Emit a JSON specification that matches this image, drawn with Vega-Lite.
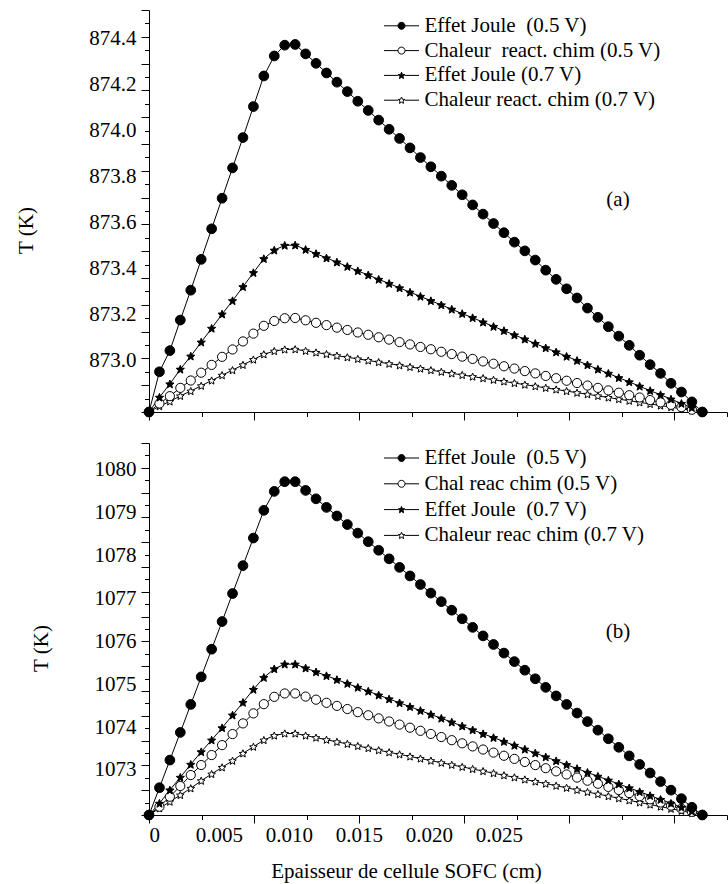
{
"$schema": "https://vega.github.io/schema/vega-lite/v6.json",
"background": "white",
"padding": {"left": 15, "top": 9, "right": 1, "bottom": 5},
"spacing": 31,
"bounds": "flush",
"datasets": {
"a": [
{"s":"S7","x":0,"T":872.774},{"s":"S7","x":0.000746,"T":872.799},{"s":"S7","x":0.001491,"T":872.820},{"s":"S7","x":0.002237,"T":872.844},{"s":"S7","x":0.002983,"T":872.865},{"s":"S7","x":0.003729,"T":872.888},{"s":"S7","x":0.004474,"T":872.911},{"s":"S7","x":0.00522,"T":872.934},{"s":"S7","x":0.005966,"T":872.956},{"s":"S7","x":0.006711,"T":872.979},{"s":"S7","x":0.007457,"T":873.002},{"s":"S7","x":0.008203,"T":873.025},{"s":"S7","x":0.008948,"T":873.039},{"s":"S7","x":0.009694,"T":873.046},{"s":"S7","x":0.01044,"T":873.047},{"s":"S7","x":0.011186,"T":873.040},{"s":"S7","x":0.011931,"T":873.033},{"s":"S7","x":0.012677,"T":873.026},{"s":"S7","x":0.013423,"T":873.019},{"s":"S7","x":0.014168,"T":873.012},{"s":"S7","x":0.014914,"T":873.005},{"s":"S7","x":0.01566,"T":872.998},{"s":"S7","x":0.016405,"T":872.991},{"s":"S7","x":0.017151,"T":872.984},{"s":"S7","x":0.017897,"T":872.977},{"s":"S7","x":0.018643,"T":872.970},{"s":"S7","x":0.019388,"T":872.963},{"s":"S7","x":0.020134,"T":872.956},{"s":"S7","x":0.02088,"T":872.949},{"s":"S7","x":0.021625,"T":872.942},{"s":"S7","x":0.022371,"T":872.935},{"s":"S7","x":0.023117,"T":872.928},{"s":"S7","x":0.023862,"T":872.921},{"s":"S7","x":0.024608,"T":872.914},{"s":"S7","x":0.025354,"T":872.907},{"s":"S7","x":0.0261,"T":872.900},{"s":"S7","x":0.026845,"T":872.893},{"s":"S7","x":0.027591,"T":872.886},{"s":"S7","x":0.028337,"T":872.879},{"s":"S7","x":0.029082,"T":872.872},{"s":"S7","x":0.029828,"T":872.865},{"s":"S7","x":0.030574,"T":872.858},{"s":"S7","x":0.031319,"T":872.851},{"s":"S7","x":0.032065,"T":872.844},{"s":"S7","x":0.032811,"T":872.837},{"s":"S7","x":0.033557,"T":872.830},{"s":"S7","x":0.034302,"T":872.823},{"s":"S7","x":0.035048,"T":872.816},{"s":"S7","x":0.035794,"T":872.809},{"s":"S7","x":0.036539,"T":872.802},{"s":"S7","x":0.037285,"T":872.795},{"s":"S7","x":0.038031,"T":872.788},{"s":"S7","x":0.038776,"T":872.781},{"s":"S7","x":0.039522,"T":872.774},
{"s":"C5","x":0,"T":872.774},{"s":"C5","x":0.000746,"T":872.811},{"s":"C5","x":0.001491,"T":872.843},{"s":"C5","x":0.002237,"T":872.879},{"s":"C5","x":0.002983,"T":872.911},{"s":"C5","x":0.003729,"T":872.945},{"s":"C5","x":0.004474,"T":872.979},{"s":"C5","x":0.00522,"T":873.014},{"s":"C5","x":0.005966,"T":873.046},{"s":"C5","x":0.006711,"T":873.081},{"s":"C5","x":0.007457,"T":873.115},{"s":"C5","x":0.008203,"T":873.149},{"s":"C5","x":0.008948,"T":873.170},{"s":"C5","x":0.009694,"T":873.182},{"s":"C5","x":0.01044,"T":873.183},{"s":"C5","x":0.011186,"T":873.173},{"s":"C5","x":0.011931,"T":873.162},{"s":"C5","x":0.012677,"T":873.152},{"s":"C5","x":0.013423,"T":873.141},{"s":"C5","x":0.014168,"T":873.131},{"s":"C5","x":0.014914,"T":873.120},{"s":"C5","x":0.01566,"T":873.110},{"s":"C5","x":0.016405,"T":873.099},{"s":"C5","x":0.017151,"T":873.089},{"s":"C5","x":0.017897,"T":873.078},{"s":"C5","x":0.018643,"T":873.068},{"s":"C5","x":0.019388,"T":873.057},{"s":"C5","x":0.020134,"T":873.047},{"s":"C5","x":0.02088,"T":873.036},{"s":"C5","x":0.021625,"T":873.026},{"s":"C5","x":0.022371,"T":873.015},{"s":"C5","x":0.023117,"T":873.005},{"s":"C5","x":0.023862,"T":872.994},{"s":"C5","x":0.024608,"T":872.984},{"s":"C5","x":0.025354,"T":872.973},{"s":"C5","x":0.0261,"T":872.963},{"s":"C5","x":0.026845,"T":872.952},{"s":"C5","x":0.027591,"T":872.942},{"s":"C5","x":0.028337,"T":872.931},{"s":"C5","x":0.029082,"T":872.921},{"s":"C5","x":0.029828,"T":872.910},{"s":"C5","x":0.030574,"T":872.900},{"s":"C5","x":0.031319,"T":872.889},{"s":"C5","x":0.032065,"T":872.879},{"s":"C5","x":0.032811,"T":872.868},{"s":"C5","x":0.033557,"T":872.858},{"s":"C5","x":0.034302,"T":872.847},{"s":"C5","x":0.035048,"T":872.837},{"s":"C5","x":0.035794,"T":872.826},{"s":"C5","x":0.036539,"T":872.816},{"s":"C5","x":0.037285,"T":872.805},{"s":"C5","x":0.038031,"T":872.795},{"s":"C5","x":0.038776,"T":872.784},{"s":"C5","x":0.039522,"T":872.774},
{"s":"J7","x":0,"T":872.774},{"s":"J7","x":0.000746,"T":872.838},{"s":"J7","x":0.001491,"T":872.896},{"s":"J7","x":0.002237,"T":872.960},{"s":"J7","x":0.002983,"T":873.017},{"s":"J7","x":0.003729,"T":873.078},{"s":"J7","x":0.004474,"T":873.138},{"s":"J7","x":0.00522,"T":873.200},{"s":"J7","x":0.005966,"T":873.258},{"s":"J7","x":0.006711,"T":873.319},{"s":"J7","x":0.007457,"T":873.380},{"s":"J7","x":0.008203,"T":873.441},{"s":"J7","x":0.008948,"T":873.478},{"s":"J7","x":0.009694,"T":873.499},{"s":"J7","x":0.01044,"T":873.500},{"s":"J7","x":0.011186,"T":873.481},{"s":"J7","x":0.011931,"T":873.463},{"s":"J7","x":0.012677,"T":873.444},{"s":"J7","x":0.013423,"T":873.426},{"s":"J7","x":0.014168,"T":873.407},{"s":"J7","x":0.014914,"T":873.388},{"s":"J7","x":0.01566,"T":873.370},{"s":"J7","x":0.016405,"T":873.351},{"s":"J7","x":0.017151,"T":873.333},{"s":"J7","x":0.017897,"T":873.314},{"s":"J7","x":0.018643,"T":873.295},{"s":"J7","x":0.019388,"T":873.277},{"s":"J7","x":0.020134,"T":873.258},{"s":"J7","x":0.02088,"T":873.240},{"s":"J7","x":0.021625,"T":873.221},{"s":"J7","x":0.022371,"T":873.202},{"s":"J7","x":0.023117,"T":873.184},{"s":"J7","x":0.023862,"T":873.165},{"s":"J7","x":0.024608,"T":873.146},{"s":"J7","x":0.025354,"T":873.128},{"s":"J7","x":0.0261,"T":873.109},{"s":"J7","x":0.026845,"T":873.091},{"s":"J7","x":0.027591,"T":873.072},{"s":"J7","x":0.028337,"T":873.053},{"s":"J7","x":0.029082,"T":873.035},{"s":"J7","x":0.029828,"T":873.016},{"s":"J7","x":0.030574,"T":872.998},{"s":"J7","x":0.031319,"T":872.979},{"s":"J7","x":0.032065,"T":872.960},{"s":"J7","x":0.032811,"T":872.942},{"s":"J7","x":0.033557,"T":872.923},{"s":"J7","x":0.034302,"T":872.905},{"s":"J7","x":0.035048,"T":872.886},{"s":"J7","x":0.035794,"T":872.867},{"s":"J7","x":0.036539,"T":872.849},{"s":"J7","x":0.037285,"T":872.830},{"s":"J7","x":0.038031,"T":872.811},{"s":"J7","x":0.038776,"T":872.793},{"s":"J7","x":0.039522,"T":872.774},
{"s":"J5","x":0,"T":872.774},{"s":"J5","x":0.000746,"T":872.949},{"s":"J5","x":0.001491,"T":873.041},{"s":"J5","x":0.002237,"T":873.174},{"s":"J5","x":0.002983,"T":873.304},{"s":"J5","x":0.003729,"T":873.438},{"s":"J5","x":0.004474,"T":873.571},{"s":"J5","x":0.00522,"T":873.704},{"s":"J5","x":0.005966,"T":873.836},{"s":"J5","x":0.006711,"T":873.968},{"s":"J5","x":0.007457,"T":874.103},{"s":"J5","x":0.008203,"T":874.236},{"s":"J5","x":0.008948,"T":874.323},{"s":"J5","x":0.009694,"T":874.370},{"s":"J5","x":0.01044,"T":874.373},{"s":"J5","x":0.011186,"T":874.332},{"s":"J5","x":0.011931,"T":874.291},{"s":"J5","x":0.012677,"T":874.249},{"s":"J5","x":0.013423,"T":874.209},{"s":"J5","x":0.014168,"T":874.168},{"s":"J5","x":0.014914,"T":874.126},{"s":"J5","x":0.01566,"T":874.086},{"s":"J5","x":0.016405,"T":874.044},{"s":"J5","x":0.017151,"T":874.004},{"s":"J5","x":0.017897,"T":873.964},{"s":"J5","x":0.018643,"T":873.923},{"s":"J5","x":0.019388,"T":873.881},{"s":"J5","x":0.020134,"T":873.841},{"s":"J5","x":0.02088,"T":873.800},{"s":"J5","x":0.021625,"T":873.760},{"s":"J5","x":0.022371,"T":873.719},{"s":"J5","x":0.023117,"T":873.675},{"s":"J5","x":0.023862,"T":873.635},{"s":"J5","x":0.024608,"T":873.594},{"s":"J5","x":0.025354,"T":873.554},{"s":"J5","x":0.0261,"T":873.513},{"s":"J5","x":0.026845,"T":873.475},{"s":"J5","x":0.027591,"T":873.435},{"s":"J5","x":0.028337,"T":873.391},{"s":"J5","x":0.029082,"T":873.351},{"s":"J5","x":0.029828,"T":873.310},{"s":"J5","x":0.030574,"T":873.270},{"s":"J5","x":0.031319,"T":873.226},{"s":"J5","x":0.032065,"T":873.186},{"s":"J5","x":0.032811,"T":873.145},{"s":"J5","x":0.033557,"T":873.104},{"s":"J5","x":0.034302,"T":873.064},{"s":"J5","x":0.035048,"T":873.021},{"s":"J5","x":0.035794,"T":872.980},{"s":"J5","x":0.036539,"T":872.942},{"s":"J5","x":0.037285,"T":872.899},{"s":"J5","x":0.038031,"T":872.861},{"s":"J5","x":0.038776,"T":872.818},{"s":"J5","x":0.039522,"T":872.774}
],
"b": [
{"s":"S7","x":0,"T":1071.950},{"s":"S7","x":0.000746,"T":1072.106},{"s":"S7","x":0.001491,"T":1072.260},{"s":"S7","x":0.002237,"T":1072.416},{"s":"S7","x":0.002983,"T":1072.572},{"s":"S7","x":0.003729,"T":1072.748},{"s":"S7","x":0.004474,"T":1072.904},{"s":"S7","x":0.00522,"T":1073.060},{"s":"S7","x":0.005966,"T":1073.214},{"s":"S7","x":0.006711,"T":1073.386},{"s":"S7","x":0.007457,"T":1073.540},{"s":"S7","x":0.008203,"T":1073.696},{"s":"S7","x":0.008948,"T":1073.801},{"s":"S7","x":0.009694,"T":1073.850},{"s":"S7","x":0.01044,"T":1073.850},{"s":"S7","x":0.011186,"T":1073.801},{"s":"S7","x":0.011931,"T":1073.753},{"s":"S7","x":0.012677,"T":1073.704},{"s":"S7","x":0.013423,"T":1073.655},{"s":"S7","x":0.014168,"T":1073.607},{"s":"S7","x":0.014914,"T":1073.558},{"s":"S7","x":0.01566,"T":1073.509},{"s":"S7","x":0.016405,"T":1073.460},{"s":"S7","x":0.017151,"T":1073.412},{"s":"S7","x":0.017897,"T":1073.363},{"s":"S7","x":0.018643,"T":1073.314},{"s":"S7","x":0.019388,"T":1073.266},{"s":"S7","x":0.020134,"T":1073.217},{"s":"S7","x":0.02088,"T":1073.168},{"s":"S7","x":0.021625,"T":1073.119},{"s":"S7","x":0.022371,"T":1073.071},{"s":"S7","x":0.023117,"T":1073.022},{"s":"S7","x":0.023862,"T":1072.973},{"s":"S7","x":0.024608,"T":1072.925},{"s":"S7","x":0.025354,"T":1072.876},{"s":"S7","x":0.0261,"T":1072.827},{"s":"S7","x":0.026845,"T":1072.778},{"s":"S7","x":0.027591,"T":1072.730},{"s":"S7","x":0.028337,"T":1072.681},{"s":"S7","x":0.029082,"T":1072.632},{"s":"S7","x":0.029828,"T":1072.584},{"s":"S7","x":0.030574,"T":1072.535},{"s":"S7","x":0.031319,"T":1072.486},{"s":"S7","x":0.032065,"T":1072.437},{"s":"S7","x":0.032811,"T":1072.389},{"s":"S7","x":0.033557,"T":1072.340},{"s":"S7","x":0.034302,"T":1072.291},{"s":"S7","x":0.035048,"T":1072.243},{"s":"S7","x":0.035794,"T":1072.194},{"s":"S7","x":0.036539,"T":1072.145},{"s":"S7","x":0.037285,"T":1072.096},{"s":"S7","x":0.038031,"T":1072.048},{"s":"S7","x":0.038776,"T":1071.999},{"s":"S7","x":0.039522,"T":1071.950},
{"s":"C5","x":0,"T":1071.950},{"s":"C5","x":0.000746,"T":1072.143},{"s":"C5","x":0.001491,"T":1072.376},{"s":"C5","x":0.002237,"T":1072.625},{"s":"C5","x":0.002983,"T":1072.881},{"s":"C5","x":0.003729,"T":1073.114},{"s":"C5","x":0.004474,"T":1073.347},{"s":"C5","x":0.00522,"T":1073.579},{"s":"C5","x":0.005966,"T":1073.836},{"s":"C5","x":0.006711,"T":1074.085},{"s":"C5","x":0.007457,"T":1074.318},{"s":"C5","x":0.008203,"T":1074.534},{"s":"C5","x":0.008948,"T":1074.704},{"s":"C5","x":0.009694,"T":1074.783},{"s":"C5","x":0.01044,"T":1074.783},{"s":"C5","x":0.011186,"T":1074.710},{"s":"C5","x":0.011931,"T":1074.638},{"s":"C5","x":0.012677,"T":1074.565},{"s":"C5","x":0.013423,"T":1074.493},{"s":"C5","x":0.014168,"T":1074.420},{"s":"C5","x":0.014914,"T":1074.347},{"s":"C5","x":0.01566,"T":1074.275},{"s":"C5","x":0.016405,"T":1074.202},{"s":"C5","x":0.017151,"T":1074.130},{"s":"C5","x":0.017897,"T":1074.057},{"s":"C5","x":0.018643,"T":1073.984},{"s":"C5","x":0.019388,"T":1073.912},{"s":"C5","x":0.020134,"T":1073.839},{"s":"C5","x":0.02088,"T":1073.767},{"s":"C5","x":0.021625,"T":1073.694},{"s":"C5","x":0.022371,"T":1073.621},{"s":"C5","x":0.023117,"T":1073.549},{"s":"C5","x":0.023862,"T":1073.476},{"s":"C5","x":0.024608,"T":1073.404},{"s":"C5","x":0.025354,"T":1073.331},{"s":"C5","x":0.0261,"T":1073.258},{"s":"C5","x":0.026845,"T":1073.186},{"s":"C5","x":0.027591,"T":1073.113},{"s":"C5","x":0.028337,"T":1073.041},{"s":"C5","x":0.029082,"T":1072.968},{"s":"C5","x":0.029828,"T":1072.895},{"s":"C5","x":0.030574,"T":1072.823},{"s":"C5","x":0.031319,"T":1072.750},{"s":"C5","x":0.032065,"T":1072.678},{"s":"C5","x":0.032811,"T":1072.605},{"s":"C5","x":0.033557,"T":1072.532},{"s":"C5","x":0.034302,"T":1072.460},{"s":"C5","x":0.035048,"T":1072.387},{"s":"C5","x":0.035794,"T":1072.315},{"s":"C5","x":0.036539,"T":1072.242},{"s":"C5","x":0.037285,"T":1072.169},{"s":"C5","x":0.038031,"T":1072.097},{"s":"C5","x":0.038776,"T":1072.024},{"s":"C5","x":0.039522,"T":1071.950},
{"s":"J7","x":0,"T":1071.950},{"s":"J7","x":0.000746,"T":1072.222},{"s":"J7","x":0.001491,"T":1072.532},{"s":"J7","x":0.002237,"T":1072.828},{"s":"J7","x":0.002983,"T":1073.130},{"s":"J7","x":0.003729,"T":1073.423},{"s":"J7","x":0.004474,"T":1073.696},{"s":"J7","x":0.00522,"T":1073.982},{"s":"J7","x":0.005966,"T":1074.278},{"s":"J7","x":0.006711,"T":1074.573},{"s":"J7","x":0.007457,"T":1074.876},{"s":"J7","x":0.008203,"T":1075.155},{"s":"J7","x":0.008948,"T":1075.356},{"s":"J7","x":0.009694,"T":1075.465},{"s":"J7","x":0.01044,"T":1075.465},{"s":"J7","x":0.011186,"T":1075.375},{"s":"J7","x":0.011931,"T":1075.285},{"s":"J7","x":0.012677,"T":1075.195},{"s":"J7","x":0.013423,"T":1075.105},{"s":"J7","x":0.014168,"T":1075.015},{"s":"J7","x":0.014914,"T":1074.924},{"s":"J7","x":0.01566,"T":1074.834},{"s":"J7","x":0.016405,"T":1074.744},{"s":"J7","x":0.017151,"T":1074.654},{"s":"J7","x":0.017897,"T":1074.564},{"s":"J7","x":0.018643,"T":1074.474},{"s":"J7","x":0.019388,"T":1074.384},{"s":"J7","x":0.020134,"T":1074.294},{"s":"J7","x":0.02088,"T":1074.204},{"s":"J7","x":0.021625,"T":1074.114},{"s":"J7","x":0.022371,"T":1074.023},{"s":"J7","x":0.023117,"T":1073.933},{"s":"J7","x":0.023862,"T":1073.843},{"s":"J7","x":0.024608,"T":1073.753},{"s":"J7","x":0.025354,"T":1073.663},{"s":"J7","x":0.0261,"T":1073.573},{"s":"J7","x":0.026845,"T":1073.483},{"s":"J7","x":0.027591,"T":1073.393},{"s":"J7","x":0.028337,"T":1073.303},{"s":"J7","x":0.029082,"T":1073.213},{"s":"J7","x":0.029828,"T":1073.122},{"s":"J7","x":0.030574,"T":1073.032},{"s":"J7","x":0.031319,"T":1072.942},{"s":"J7","x":0.032065,"T":1072.852},{"s":"J7","x":0.032811,"T":1072.762},{"s":"J7","x":0.033557,"T":1072.672},{"s":"J7","x":0.034302,"T":1072.582},{"s":"J7","x":0.035048,"T":1072.492},{"s":"J7","x":0.035794,"T":1072.402},{"s":"J7","x":0.036539,"T":1072.312},{"s":"J7","x":0.037285,"T":1072.221},{"s":"J7","x":0.038031,"T":1072.131},{"s":"J7","x":0.038776,"T":1072.041},{"s":"J7","x":0.039522,"T":1071.950},
{"s":"J5","x":0,"T":1071.950},{"s":"J5","x":0.000746,"T":1072.586},{"s":"J5","x":0.001491,"T":1073.230},{"s":"J5","x":0.002237,"T":1073.875},{"s":"J5","x":0.002983,"T":1074.527},{"s":"J5","x":0.003729,"T":1075.169},{"s":"J5","x":0.004474,"T":1075.814},{"s":"J5","x":0.00522,"T":1076.459},{"s":"J5","x":0.005966,"T":1077.111},{"s":"J5","x":0.006711,"T":1077.762},{"s":"J5","x":0.007457,"T":1078.405},{"s":"J5","x":0.008203,"T":1079.050},{"s":"J5","x":0.008948,"T":1079.492},{"s":"J5","x":0.009694,"T":1079.718},{"s":"J5","x":0.01044,"T":1079.718},{"s":"J5","x":0.011186,"T":1079.515},{"s":"J5","x":0.011931,"T":1079.319},{"s":"J5","x":0.012677,"T":1079.119},{"s":"J5","x":0.013423,"T":1078.919},{"s":"J5","x":0.014168,"T":1078.720},{"s":"J5","x":0.014914,"T":1078.520},{"s":"J5","x":0.01566,"T":1078.320},{"s":"J5","x":0.016405,"T":1078.120},{"s":"J5","x":0.017151,"T":1077.921},{"s":"J5","x":0.017897,"T":1077.721},{"s":"J5","x":0.018643,"T":1077.521},{"s":"J5","x":0.019388,"T":1077.322},{"s":"J5","x":0.020134,"T":1077.122},{"s":"J5","x":0.02088,"T":1076.922},{"s":"J5","x":0.021625,"T":1076.723},{"s":"J5","x":0.022371,"T":1076.523},{"s":"J5","x":0.023117,"T":1076.323},{"s":"J5","x":0.023862,"T":1076.124},{"s":"J5","x":0.024608,"T":1075.924},{"s":"J5","x":0.025354,"T":1075.724},{"s":"J5","x":0.0261,"T":1075.525},{"s":"J5","x":0.026845,"T":1075.325},{"s":"J5","x":0.027591,"T":1075.125},{"s":"J5","x":0.028337,"T":1074.925},{"s":"J5","x":0.029082,"T":1074.726},{"s":"J5","x":0.029828,"T":1074.526},{"s":"J5","x":0.030574,"T":1074.326},{"s":"J5","x":0.031319,"T":1074.127},{"s":"J5","x":0.032065,"T":1073.927},{"s":"J5","x":0.032811,"T":1073.727},{"s":"J5","x":0.033557,"T":1073.528},{"s":"J5","x":0.034302,"T":1073.328},{"s":"J5","x":0.035048,"T":1073.128},{"s":"J5","x":0.035794,"T":1072.929},{"s":"J5","x":0.036539,"T":1072.729},{"s":"J5","x":0.037285,"T":1072.529},{"s":"J5","x":0.038031,"T":1072.330},{"s":"J5","x":0.038776,"T":1072.130},{"s":"J5","x":0.039522,"T":1071.950}
]
},
"vconcat": [
{
"width": 578, "height": 402,
"resolve": {"scale": {"x": "independent", "y": "independent", "shape": "independent", "fill": "independent", "size": "independent", "stroke": "independent"}},
"layer": [
{"data": {"name": "a"},
 "mark": {"type": "line", "stroke": "black", "strokeWidth": 1},
 "encoding": {
  "x": {"field": "x", "type": "quantitative", "scale": {"domain": [0, 0.0412858], "nice": false, "zero": false},
        "axis": {"orient": "bottom", "values": [0, 0.005, 0.01, 0.015, 0.02, 0.025], "ticks": false, "labels": false, "title": null, "domain": true}},
  "y": {"field": "T", "type": "quantitative", "scale": {"domain": [872.774, 874.523], "nice": false, "zero": false},
        "axis": {"orient": "left", "values": [873.0, 873.2, 873.4, 873.6, 873.8, 874.0, 874.2, 874.4], "format": ".1f", "ticks": false, "domain": true, "labelPadding": 13, "title": "T (K)", "titleX": -123, "titleY": 220, "titleBaseline": "middle", "titleAngle": -90}},
  "detail": {"field": "s"}
 }},
{"data": {"name": "a"},
 "mark": {"type": "point", "filled": true, "stroke": "black", "strokeWidth": 1, "opacity": 1},
 "encoding": {
  "x": {"field": "x", "type": "quantitative", "scale": {"domain": [0, 0.0412858], "nice": false, "zero": false},
        "axis": {"orient": "bottom", "values": [0, 0.0075065, 0.015013, 0.0225195, 0.030026, 0.0375325], "tickSize": 8, "labels": false, "domain": false, "title": null}},
  "y": {"field": "T", "type": "quantitative", "scale": {"domain": [872.774, 874.523], "nice": false, "zero": false},
        "axis": {"orient": "left", "values": [872.774, 872.8906, 873.0072, 873.1238, 873.2404, 873.357, 873.4736, 873.5902, 873.7068, 873.8234, 873.94, 874.0566, 874.1732, 874.2898, 874.4064, 874.5229], "tickSize": 8, "labels": false, "domain": false, "title": null}},
  "shape": {"field": "s", "type": "nominal", "legend": null,
            "scale": {"domain": ["J5", "C5", "J7", "S7"], "range": ["circle", "circle", "M0,-0.905L0.2645,-0.268L0.951,-0.214L0.428,0.234L0.588,0.905L0,0.545L-0.588,0.905L-0.428,0.234L-0.951,-0.214L-0.2645,-0.268Z", "M0,-0.905L0.2645,-0.268L0.951,-0.214L0.428,0.234L0.588,0.905L0,0.545L-0.588,0.905L-0.428,0.234L-0.951,-0.214L-0.2645,-0.268Z"]}},
  "fill": {"field": "s", "type": "nominal", "scale": {"domain": ["J5", "C5", "J7", "S7"], "range": ["black", "white", "black", "white"]}, "legend": null},
  "size": {"field": "s", "type": "nominal", "scale": {"domain": ["J5", "C5", "J7", "S7"], "range": [95, 64, 110, 70]}, "legend": null}
 }},
{"data": {"name": "a"},
 "mark": {"type": "point", "filled": true, "strokeWidth": 1, "opacity": 0},
 "encoding": {
  "x": {"field": "x", "type": "quantitative", "scale": {"domain": [0, 0.0412858], "nice": false, "zero": false},
        "axis": {"orient": "bottom", "values": [0.0037533, 0.0112598, 0.0187663, 0.0262728, 0.0337793, 0.0412857], "tickSize": 4.5, "labels": false, "domain": false, "title": null}},
  "y": {"field": "T", "type": "quantitative", "scale": {"domain": [872.774, 874.523], "nice": false, "zero": false},
        "axis": {"orient": "left", "values": [872.8323, 872.9489, 873.0655, 873.1821, 873.2987, 873.4153, 873.5319, 873.6485, 873.7651, 873.8817, 873.9983, 874.1149, 874.2315, 874.3481, 874.4647], "tickSize": 4.5, "labels": false, "domain": false, "title": null}},
  "shape": {"field": "s", "type": "nominal",
            "scale": {"domain": ["J5", "C5", "J7", "S7"], "range": ["M-5,0L-1,0M1,0L5,0M1,0A1,1,0,1,1,-1,0A1,1,0,1,1,1,0Z", "M-5,0L-1,0M1,0L5,0M1,0A1,1,0,1,1,-1,0A1,1,0,1,1,1,0Z", "M-5,0L-0.95,0M0.95,0L5,0M0,-0.905L0.2645,-0.268L0.951,-0.214L0.428,0.234L0.588,0.905L0,0.545L-0.588,0.905L-0.428,0.234L-0.951,-0.214L-0.2645,-0.268Z", "M-5,0L-0.95,0M0.95,0L5,0M0,-0.905L0.2645,-0.268L0.951,-0.214L0.428,0.234L0.588,0.905L0,0.545L-0.588,0.905L-0.428,0.234L-0.951,-0.214L-0.2645,-0.268Z"]},
            "legend": {"title": null, "orient": "none", "legendX": 242, "legendY": 5.3, "labelOffset": 12.5, "rowPadding": 2.8, "symbolSize": 49, "symbolOpacity": 1, "symbolStrokeWidth": 1,
                       "labelExpr": "datum.value == 'J5' ? 'Effet Joule\u00a0 (0.5 V)' : datum.value == 'C5' ? 'Chaleur\u00a0 react. chim (0.5 V)' : datum.value == 'J7' ? 'Effet Joule (0.7 V)' : 'Chaleur react. chim (0.7 V)'"}},
  "fill": {"field": "s", "type": "nominal", "scale": {"domain": ["J5", "C5", "J7", "S7"], "range": ["black", "white", "black", "white"]}},
  "stroke": {"field": "s", "type": "nominal", "scale": {"domain": ["J5", "C5", "J7", "S7"], "range": ["black", "black", "black", "black"]}}
 }},
{"data": {"values": [{}]},
 "mark": {"type": "text", "font": "Liberation Serif", "fontSize": 21, "color": "black"},
 "encoding": {
  "x": {"datum": 0.0335, "type": "quantitative", "scale": {"domain": [0, 0.0412858], "nice": false, "zero": false}, "axis": null},
  "y": {"datum": 873.696, "type": "quantitative", "scale": {"domain": [872.774, 874.523], "nice": false, "zero": false}, "axis": null},
  "text": {"value": "(a)"}
 }}
]
},
{
"width": 578, "height": 372,
"resolve": {"scale": {"x": "independent", "y": "independent", "shape": "independent", "fill": "independent", "size": "independent", "stroke": "independent"}},
"layer": [
{"data": {"name": "b"},
 "mark": {"type": "line", "stroke": "black", "strokeWidth": 1},
 "encoding": {
  "x": {"field": "x", "type": "quantitative", "scale": {"domain": [0, 0.0412858], "nice": false, "zero": false},
        "axis": {"orient": "bottom", "values": [0, 0.005, 0.01, 0.015, 0.02, 0.025], "labelExpr": "datum.value == 0 ? '0' : format(datum.value, '.3f')", "ticks": false, "labelPadding": 9, "domain": true, "title": "Epaisseur de cellule SOFC (cm)", "titleX": 257, "titleY": 56, "titleBaseline": "middle"}},
  "y": {"field": "T", "type": "quantitative", "scale": {"domain": [1071.95, 1080.62], "nice": false, "zero": false},
        "axis": {"orient": "left", "values": [1073, 1074, 1075, 1076, 1077, 1078, 1079, 1080], "format": "d", "ticks": false, "domain": true, "labelPadding": 13, "title": "T (K)", "titleX": -108, "titleY": 205, "titleBaseline": "middle", "titleAngle": -90}},
  "detail": {"field": "s"}
 }},
{"data": {"name": "b"},
 "mark": {"type": "point", "filled": true, "stroke": "black", "strokeWidth": 1, "opacity": 1},
 "encoding": {
  "x": {"field": "x", "type": "quantitative", "scale": {"domain": [0, 0.0412858], "nice": false, "zero": false},
        "axis": {"orient": "bottom", "values": [0, 0.0075065, 0.015013, 0.0225195, 0.030026, 0.0375325], "tickSize": 8, "labels": false, "domain": false, "title": null}},
  "y": {"field": "T", "type": "quantitative", "scale": {"domain": [1071.95, 1080.62], "nice": false, "zero": false},
        "axis": {"orient": "left", "values": [1071.95, 1072.528, 1073.106, 1073.684, 1074.262, 1074.84, 1075.418, 1075.996, 1076.574, 1077.152, 1077.73, 1078.308, 1078.886, 1079.464, 1080.042, 1080.6199], "tickSize": 8, "labels": false, "domain": false, "title": null}},
  "shape": {"field": "s", "type": "nominal", "legend": null,
            "scale": {"domain": ["J5", "C5", "J7", "S7"], "range": ["circle", "circle", "M0,-0.905L0.2645,-0.268L0.951,-0.214L0.428,0.234L0.588,0.905L0,0.545L-0.588,0.905L-0.428,0.234L-0.951,-0.214L-0.2645,-0.268Z", "M0,-0.905L0.2645,-0.268L0.951,-0.214L0.428,0.234L0.588,0.905L0,0.545L-0.588,0.905L-0.428,0.234L-0.951,-0.214L-0.2645,-0.268Z"]}},
  "fill": {"field": "s", "type": "nominal", "scale": {"domain": ["J5", "C5", "J7", "S7"], "range": ["black", "white", "black", "white"]}, "legend": null},
  "size": {"field": "s", "type": "nominal", "scale": {"domain": ["J5", "C5", "J7", "S7"], "range": [95, 64, 110, 70]}, "legend": null}
 }},
{"data": {"name": "b"},
 "mark": {"type": "point", "filled": true, "strokeWidth": 1, "opacity": 0},
 "encoding": {
  "x": {"field": "x", "type": "quantitative", "scale": {"domain": [0, 0.0412858], "nice": false, "zero": false},
        "axis": {"orient": "bottom", "values": [0.0037533, 0.0112598, 0.0187663, 0.0262728, 0.0337793, 0.0412857], "tickSize": 4.5, "labels": false, "domain": false, "title": null}},
  "y": {"field": "T", "type": "quantitative", "scale": {"domain": [1071.95, 1080.62], "nice": false, "zero": false},
        "axis": {"orient": "left", "values": [1072.239, 1072.817, 1073.395, 1073.973, 1074.551, 1075.129, 1075.707, 1076.285, 1076.863, 1077.441, 1078.019, 1078.597, 1079.175, 1079.753, 1080.331], "tickSize": 4.5, "labels": false, "domain": false, "title": null}},
  "shape": {"field": "s", "type": "nominal",
            "scale": {"domain": ["J5", "C5", "J7", "S7"], "range": ["M-5,0L-1,0M1,0L5,0M1,0A1,1,0,1,1,-1,0A1,1,0,1,1,1,0Z", "M-5,0L-1,0M1,0L5,0M1,0A1,1,0,1,1,-1,0A1,1,0,1,1,1,0Z", "M-5,0L-0.95,0M0.95,0L5,0M0,-0.905L0.2645,-0.268L0.951,-0.214L0.428,0.234L0.588,0.905L0,0.545L-0.588,0.905L-0.428,0.234L-0.951,-0.214L-0.2645,-0.268Z", "M-5,0L-0.95,0M0.95,0L5,0M0,-0.905L0.2645,-0.268L0.951,-0.214L0.428,0.234L0.588,0.905L0,0.545L-0.588,0.905L-0.428,0.234L-0.951,-0.214L-0.2645,-0.268Z"]},
            "legend": {"title": null, "orient": "none", "legendX": 242, "legendY": 4.5, "labelOffset": 12.5, "rowPadding": 3.8, "symbolSize": 49, "symbolOpacity": 1, "symbolStrokeWidth": 1,
                       "labelExpr": "datum.value == 'J5' ? 'Effet Joule\u00a0 (0.5 V)' : datum.value == 'C5' ? 'Chal reac chim (0.5 V)' : datum.value == 'J7' ? 'Effet Joule\u00a0 (0.7 V)' : 'Chaleur reac chim (0.7 V)'"}},
  "fill": {"field": "s", "type": "nominal", "scale": {"domain": ["J5", "C5", "J7", "S7"], "range": ["black", "white", "black", "white"]}},
  "stroke": {"field": "s", "type": "nominal", "scale": {"domain": ["J5", "C5", "J7", "S7"], "range": ["black", "black", "black", "black"]}}
 }},
{"data": {"values": [{}]},
 "mark": {"type": "text", "font": "Liberation Serif", "fontSize": 21, "color": "black"},
 "encoding": {
  "x": {"datum": 0.0335, "type": "quantitative", "scale": {"domain": [0, 0.0412858], "nice": false, "zero": false}, "axis": null},
  "y": {"datum": 1076.21, "type": "quantitative", "scale": {"domain": [1071.95, 1080.62], "nice": false, "zero": false}, "axis": null},
  "text": {"value": "(b)"}
 }}
]
}
],
"resolve": {"scale": {"x": "independent", "y": "independent", "shape": "independent", "fill": "independent", "size": "independent", "stroke": "independent"}, "legend": {"shape": "independent", "fill": "independent", "stroke": "independent"}},
"config": {
 "view": {"stroke": null},
 "axis": {"labelFont": "Liberation Serif", "titleFont": "Liberation Serif", "labelFontSize": 21, "titleFontSize": 21, "labelColor": "black", "titleColor": "black", "titleFontWeight": "normal", "domainColor": "black", "domainWidth": 1, "tickColor": "black", "tickWidth": 1, "grid": false},
 "legend": {"labelFont": "Liberation Serif", "labelFontSize": 21, "labelColor": "black", "padding": 0, "labelLimit": 400}
}
}
